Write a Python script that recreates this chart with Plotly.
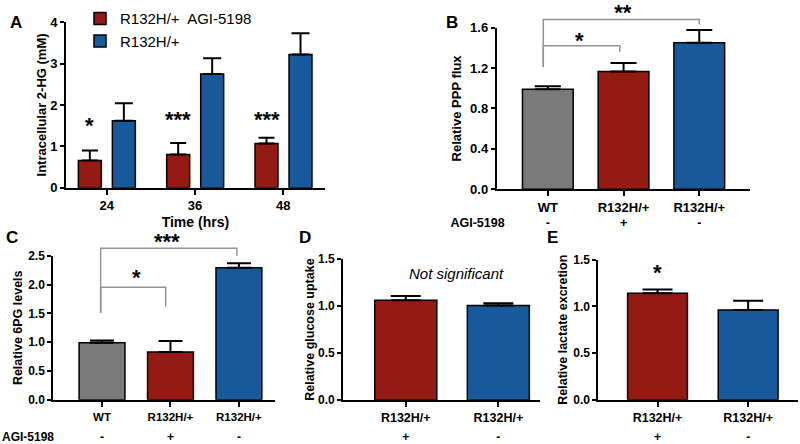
import plotly.graph_objects as go

# ---------------- data ----------------
# Panel A
time_labels = ["24", "36", "48"]
a_agi = [0.66, 0.80, 1.07]
a_agi_err = [0.24, 0.28, 0.14]
a_mut = [1.62, 2.75, 3.22]
a_mut_err = [0.42, 0.38, 0.51]
a_stars = ["*", "***", "***"]
a_star_y = [1.56, 1.70, 1.70]

# Panel B
b_labels = ["WT", "R132H/+", "R132H/+"]
b_agi = ["-", "+", "-"]
b_vals = [0.99, 1.165, 1.45]
b_err = [0.03, 0.085, 0.125]

# Panel C
c_labels = ["WT", "R132H/+", "R132H/+"]
c_agi = ["-", "+", "-"]
c_vals = [0.99, 0.83, 2.29]
c_err = [0.04, 0.19, 0.08]

# Panel D
d_labels = ["R132H/+", "R132H/+"]
d_agi = ["+", "-"]
d_vals = [1.06, 1.004]
d_err = [0.045, 0.025]

# Panel E
e_labels = ["R132H/+", "R132H/+"]
e_agi = ["+", "-"]
e_vals = [1.14, 0.96]
e_err = [0.04, 0.10]

agi_title = "AGI-5198"

# ---------------- style ----------------
RED = "#961A14"
BLUE = "#17599A"
GRAY = "#7A7A7A"
BRK = "#949494"
FONT = "Liberation Sans, Arial, sans-serif"

fig = go.Figure()

def err(arr, w):
    return dict(type="data", symmetric=False, array=arr, arrayminus=[0] * len(arr),
                color="black", thickness=2, width=w)

# Panel A traces
xa = list(range(len(time_labels)))
fig.add_trace(go.Bar(x=xa, y=a_agi, name="R132H/+  AGI-5198", marker=dict(color=RED, line=dict(color="black", width=1.5)),
                     width=0.26, offset=-0.32, error_y=err(a_agi_err, 8), xaxis="x", yaxis="y", showlegend=True))
fig.add_trace(go.Bar(x=xa, y=a_mut, name="R132H/+", marker=dict(color=BLUE, line=dict(color="black", width=1.5)),
                     width=0.26, offset=0.065, error_y=err(a_mut_err, 9), xaxis="x", yaxis="y", showlegend=True))

def single(vals, errs, colors, ax, w, cw):
    fig.add_trace(go.Bar(x=list(range(len(vals))), y=vals, width=w,
                         marker=dict(color=colors, line=dict(color="black", width=1.5)),
                         error_y=err(errs, cw), xaxis="x" + ax, yaxis="y" + ax, showlegend=False))

single(b_vals, b_err, [GRAY, RED, BLUE], "2", 0.67, 13)
single(c_vals, c_err, [GRAY, RED, BLUE], "3", 0.67, 12)
single(d_vals, d_err, [RED, BLUE], "4", 0.67, 15)
single(e_vals, e_err, [RED, BLUE], "5", 0.66, 15)

# ---------------- axes ----------------
dom = {
    "": dict(x=[0.0825, 0.406], y=[0.5818, 0.9714], xr=[-0.46, 2.47], yr=[0, 4]),
    "2": dict(x=[0.621, 0.9375], y=[0.578, 0.9588], xr=[-0.674, 2.67], yr=[0, 1.6]),
    "3": dict(x=[0.0666, 0.344], y=[0.0827, 0.4218], xr=[-0.712, 2.53], yr=[0, 2.5]),
    "4": dict(x=[0.429, 0.675], y=[0.0818, 0.4144], xr=[-0.676, 1.45], yr=[0, 1.5]),
    "5": dict(x=[0.748, 0.9975], y=[0.0827, 0.4128], xr=[-0.652, 1.55], yr=[0, 1.5]),
}
ticktexts = {"": time_labels, "2": b_labels, "3": c_labels, "4": d_labels, "5": e_labels}
ytitles = {"": "Intracellular 2-HG (mM)", "2": "Relative PPP flux", "3": "Relative 6PG levels",
           "4": "Relative glucose uptake", "5": "Relative lactate excretion"}
dticks = {"": 1, "2": 0.4, "3": 0.5, "4": 0.5, "5": 0.5}
tfmt = {"": "d", "2": ".1f", "3": ".1f", "4": ".1f", "5": ".1f"}
xtick_size = {"": 13, "2": 13, "3": 11.5, "4": 12.5, "5": 12.5}
ytick_size = {"": 13, "2": 13, "3": 12, "4": 12, "5": 12}
ytitle_size = {"": 13, "2": 13, "3": 12.5, "4": 12.5, "5": 12.5}
ytitle_stand = {"": 1, "2": 6, "3": 3, "4": 1, "5": 3}

common = dict(showline=True, linecolor="black", linewidth=2, ticks="outside", ticklen=5,
              tickwidth=2, tickcolor="black", showgrid=False, zeroline=False)

layout_axes = {}
for k, d in dom.items():
    tt = ticktexts[k]
    xcfg = dict(common, domain=d["x"], range=d["xr"], anchor="y" + k,
                tickvals=list(range(len(tt))), ticktext=tt,
                tickfont=dict(family=FONT, size=xtick_size[k], color="black", weight="bold"))
    if k == "":
        xcfg["title"] = dict(text="Time (hrs)", font=dict(family=FONT, size=14, color="black", weight="bold"), standoff=5)
    ycfg = dict(common, domain=d["y"], range=d["yr"], anchor="x" + k, dtick=dticks[k], tick0=0,
                tickformat=tfmt[k], ticklen=4,
                tickfont=dict(family=FONT, size=ytick_size[k], color="black", weight="bold"),
                title=dict(text=ytitles[k], font=dict(family=FONT, size=ytitle_size[k], color="black", weight="bold"),
                           standoff=ytitle_stand[k]))
    layout_axes["xaxis" + k] = xcfg
    layout_axes["yaxis" + k] = ycfg

# ---- label-only axes for the AGI-5198 rows and the top mark of panel B ----
def px_per_unit(k):
    d = dom[k]
    return (d["x"][1] - d["x"][0]) * 800 / (d["xr"][1] - d["xr"][0])

def label_axis(name, k, left_px, vals, texts, pos_px, size, side="bottom"):
    d = dom[k]
    ppu = px_per_unit(k)
    left_dom = left_px / 800 if left_px is not None else d["x"][0]
    xr0 = d["xr"][1] - (d["x"][1] - left_dom) * 800 / ppu
    layout_axes["xaxis" + name] = dict(domain=[left_dom, d["x"][1]], range=[xr0, d["xr"][1]],
                                       anchor="free", position=1 - pos_px / 444, side=side,
                                       showline=False, showgrid=False, zeroline=False, ticks="",
                                       tickvals=vals, ticktext=texts,
                                       tickfont=dict(family=FONT, size=size, color="black", weight="bold"))
    fig.add_trace(go.Scatter(x=[], y=[], xaxis="x" + name, yaxis="y" + k, showlegend=False, hoverinfo="skip"))

def cat_of(k, px):
    d = dom[k]
    x0px = d["x"][0] * 800
    return d["xr"][0] + (px - x0px) / px_per_unit(k)

label_axis("6", "2", 430, [cat_of("2", 477.5)] + list(range(len(b_agi))), [agi_title] + b_agi, 212.5, 12.5)
label_axis("7", "3", 0, [cat_of("3", 28)] + list(range(len(c_agi))), [agi_title] + c_agi, 437, 12)
label_axis("8", "4", None, list(range(len(d_agi))), d_agi, 437, 12)
label_axis("9", "5", None, list(range(len(e_agi))), e_agi, 437, 12)
label_axis("10", "2", None, [0.99], ["**"], 15, 22, side="top")

fig.update_layout(**layout_axes)

# helper: data y -> paper y
def py(k, v):
    d = dom[k]
    return d["y"][0] + (v - d["yr"][0]) / (d["yr"][1] - d["yr"][0]) * (d["y"][1] - d["y"][0])

shapes = []
def bracket(k, x0, x1, ytop, yl, yr):
    shapes.append(dict(type="path", xref="x" + k, yref="paper",
                       path=f"M {x0} {py(k, yl)} L {x0} {py(k, ytop)} L {x1} {py(k, ytop)} L {x1} {py(k, yr)}",
                       line=dict(color=BRK, width=1.5)))

# Panel B brackets
bracket("2", -0.06, 0.95, 1.42, 1.21, 1.36)
bracket("2", -0.06, 2.0, 1.68, 1.21, 1.63)
# Panel C brackets
bracket("3", -0.02, 0.93, 1.955, 1.51, 1.62)
bracket("3", -0.02, 1.97, 2.63, 1.51, 2.50)

annotations = []
def ann(text, x, y, xref, size=12, bold=True, italic=False, xanchor="center", yanchor="middle"):
    annotations.append(dict(text=text, x=x, y=y, xref=xref, yref="paper", showarrow=False,
                            xanchor=xanchor, yanchor=yanchor,
                            font=dict(family=FONT, size=size, color="black",
                                      weight="bold" if bold else "normal",
                                      style="italic" if italic else "normal")))

STAR = 22
SH = 2 / 444
for i, (s, yv) in enumerate(zip(a_stars, a_star_y)):
    ann(s, i - 0.19, py("", yv) - SH, "x", size=STAR)
ann("*", 0.42, py("2", 1.49) - SH, "x2", size=STAR)
ann("***", 0.95, py("3", 2.78) - SH, "x3", size=STAR)
ann("*", 0.5, py("3", 2.15) - SH, "x3", size=STAR)
ann("*", 0, py("5", 1.38) - SH, "x5", size=STAR)
ann("Not significant", 0.55, py("4", 1.35), "x4", size=15, bold=False, italic=True)

# panel letters
for letter, xp, ypx in [("A", 16, 13), ("B", 452, 13), ("C", 12, 238), ("D", 305, 238), ("E", 552, 238)]:
    ann(letter, xp / 800, 1 - ypx / 444, "paper", size=17)

fig.update_layout(
    width=800, height=444,
    margin=dict(l=0, r=0, t=0, b=0),
    paper_bgcolor="white", plot_bgcolor="rgba(0,0,0,0)",
    barmode="overlay",
    shapes=shapes, annotations=annotations,
    font=dict(family=FONT, color="black"),
    legend=dict(x=80 / 800, y=1 + 8 / 444, xanchor="left", yanchor="top",
                font=dict(family=FONT, size=15, color="black"), bgcolor="rgba(0,0,0,0)",
                traceorder="normal", tracegroupgap=0, itemwidth=30),
)

fig.write_html("out.html", config={"displayModeBar": False},
               post_script="document.body.style.margin='0px';")
